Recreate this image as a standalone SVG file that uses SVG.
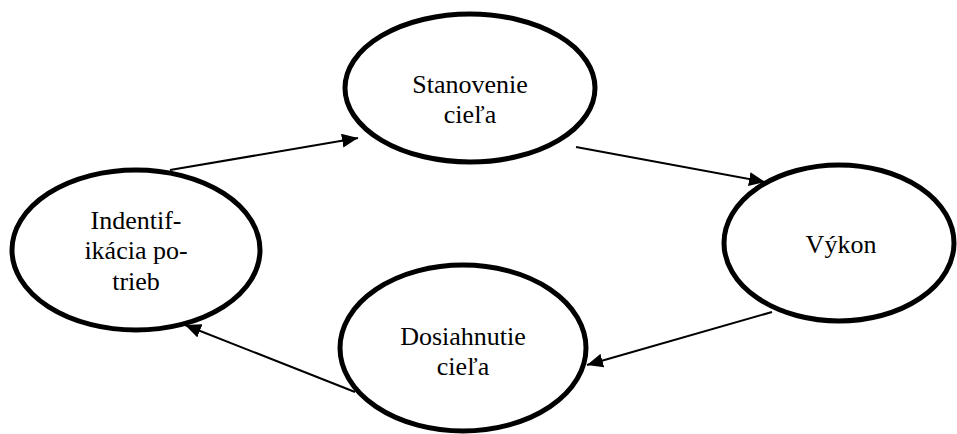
<svg xmlns="http://www.w3.org/2000/svg" width="957" height="434" viewBox="0 0 957 434">
<style>
.node{fill:#fff;stroke:#000;stroke-width:5}
text{font-family:"Liberation Serif","Times New Roman",serif;font-size:26px;fill:#000;text-anchor:middle}
.edge{stroke:#000;stroke-width:2;fill:none;marker-end:url(#ah)}
</style>
<defs>
<marker id="ah" markerUnits="userSpaceOnUse" markerWidth="18" markerHeight="14" refX="16" refY="7" orient="auto">
<path d="M0,0 L16,7 L0,14 Z" fill="#000"/>
</marker>
</defs>
<rect width="957" height="434" fill="#fff"/>
<g id="connectors">
<line class="edge" x1="170" y1="170" x2="358" y2="138"/>
<line class="edge" x1="576" y1="147" x2="765" y2="182"/>
<line class="edge" x1="772" y1="312" x2="587" y2="365"/>
<line class="edge" x1="355" y1="392" x2="185" y2="325"/>
</g>
<g id="stanovenie">
<ellipse class="node" cx="470" cy="88" rx="125" ry="74"/>
<text x="470" y="93">Stanovenie</text>
<text x="470" y="123">cieľa</text>
</g>
<g id="identifikacia">
<ellipse class="node" cx="136" cy="250" rx="124" ry="80"/>
<text x="136" y="229">Indentif-</text>
<text x="136" y="259">ikácia po-</text>
<text x="136" y="290">trieb</text>
</g>
<g id="vykon">
<ellipse class="node" cx="839" cy="243" rx="115" ry="78"/>
<text x="841" y="253">Výkon</text>
</g>
<g id="dosiahnutie">
<ellipse class="node" cx="463" cy="348" rx="123" ry="83"/>
<text x="463" y="345">Dosiahnutie</text>
<text x="463" y="375">cieľa</text>
</g>
</svg>
